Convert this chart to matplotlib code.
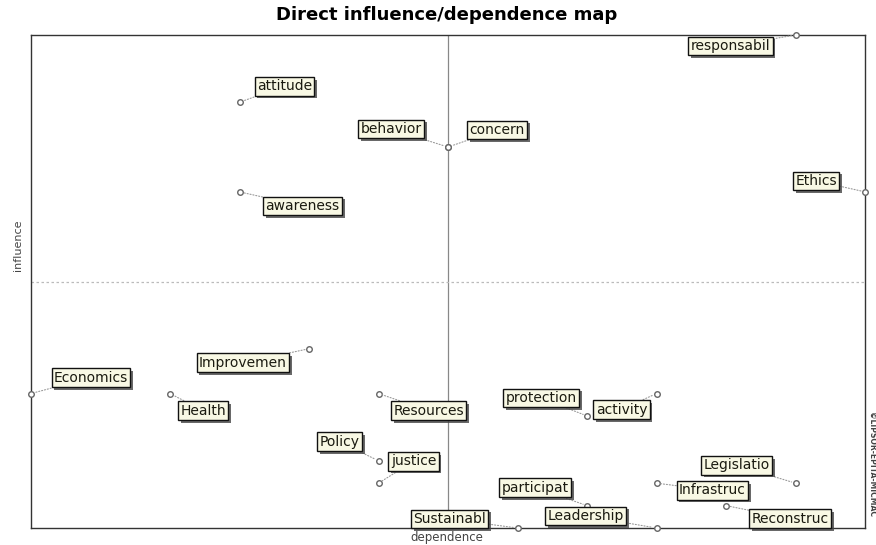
import matplotlib
matplotlib.use("Agg")
import matplotlib.pyplot as plt
import matplotlib.patheffects as pe

# Variables: dependence (x) and influence (y)
names = ["responsabil", "attitude", "behavior", "concern", "awareness", "Ethics",
         "Improvemen", "Economics", "Health", "Resources", "protection", "activity",
         "Policy", "justice", "Legislatio", "Infrastruc", "participat", "Reconstruc",
         "Sustainabl", "Leadership"]
dependence = [11, 3, 6, 6, 3, 12, 4, 0, 2, 5, 8, 9, 5, 5, 11, 9, 8, 10, 7, 9]
influence = [22, 19, 17, 17, 15, 15, 8, 6, 6, 6, 5, 6, 3, 2, 2, 2, 1, 1, 0, 0]

# label offsets from the point, in pixels
label_dx = [-65, 45, -57, 49, 63, -49, -66, 60, 33, 50, -46, -35, -39, 35, -59, 56, -52, 64, -68, -71]
label_dy = [-11, 16, 18, 17, -14, 11, -14, 16, -17, -17, 18, -16, 19, 22, 18, -7, 18, -13, 9, 12]

fig = plt.figure(figsize=(8.76, 5.45), dpi=100)
ax = fig.add_axes([31 / 876, 17 / 545, 834 / 876, 493 / 545])
ax.set_xlim(0, 12)
ax.set_ylim(0, 22)
ax.set_xticks([])
ax.set_yticks([])
for s in ax.spines.values():
    s.set_color("#333333")
    s.set_linewidth(1.0)

# quadrant lines
ax.axvline(6, color="#888888", lw=0.9, zorder=1)
ax.axhline(11, color="#bbbbbb", lw=0.9, ls=(0, (2, 2)), zorder=1)

ax.scatter(dependence, influence, s=16, facecolors="white", edgecolors="#666666",
           linewidths=1.0, zorder=4, clip_on=False)

for n, x, y, dx, dy in zip(names, dependence, influence, label_dx, label_dy):
    t = ax.annotate(n, (x, y), xytext=(dx, dy), textcoords="offset pixels",
                    ha="center", va="center", fontsize=10, color="#1a1a10",
                    family="DejaVu Sans",
                    bbox=dict(boxstyle="square,pad=0.17", fc="#f8f8e4", ec="#111111", lw=1.0),
                    arrowprops=dict(arrowstyle="-", color="#999999", lw=0.8, ls=":",
                                    shrinkA=0, shrinkB=3),
                    zorder=5, annotation_clip=False)
    t.get_bbox_patch().set_path_effects([
        pe.SimplePatchShadow(offset=(2, -2), shadow_rgbFace="#444444", alpha=0.8),
        pe.Normal()])

fig.text(447 / 876, 1 - 15 / 545, "Direct influence/dependence map", ha="center", va="center",
         fontsize=13, fontweight="bold", family="DejaVu Sans")
fig.text(447 / 876, 1 - 537 / 545, "dependence", ha="center", va="center",
         fontsize=8.5, color="#444444")
fig.text(18 / 876, 1 - 245 / 545, "influence", ha="center", va="center", rotation=90,
         fontsize=8, color="#444444")
fig.text(872 / 876, 1 - 465 / 545, "\u00a9LIPSOR-EPITA-MICMAC", ha="center", va="center",
         rotation=-90, fontsize=5.5, color="#444444", fontweight="bold")

fig.savefig("out.png", dpi=100)
